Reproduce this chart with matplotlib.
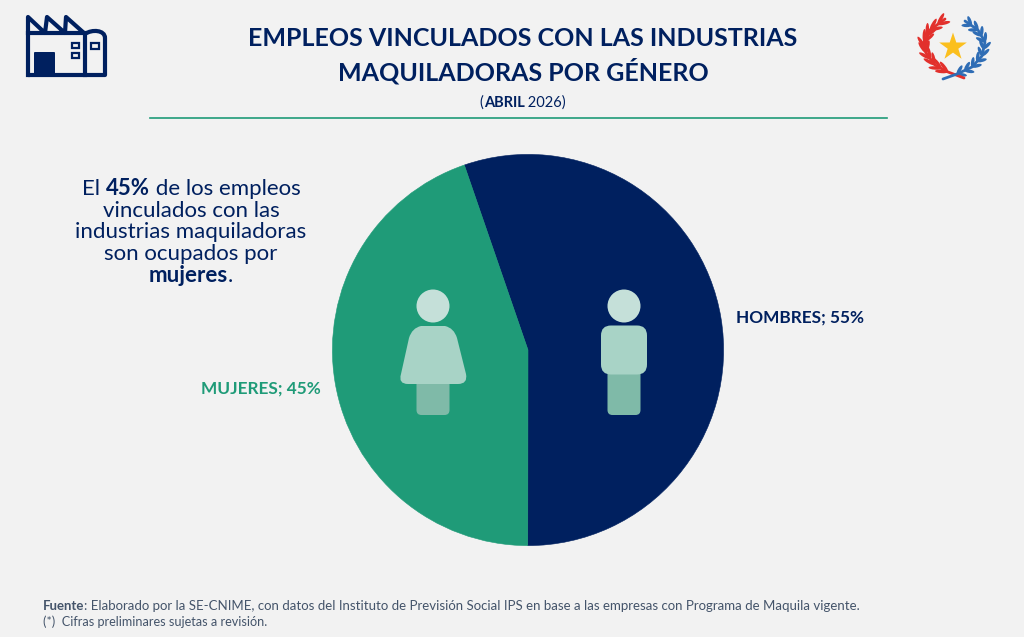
#!/usr/bin/env python3
import numpy as np
import matplotlib
matplotlib.use('Agg')
import matplotlib.pyplot as plt
from matplotlib.patches import Circle, Ellipse, FancyBboxPatch, Polygon, Rectangle, PathPatch
from matplotlib.path import Path

NAVY = '#00205f'
GREEN = '#1f9b78'
BG = '#f2f2f2'
GREY = '#44546a'

categories = ['HOMBRES', 'MUJERES']
shares = [55.3, 44.7]
slice_colors = [NAVY, GREEN]

title_lines = ['EMPLEOS VINCULADOS CON LAS INDUSTRIAS', 'MAQUILADORAS POR GÉNERO']
note_lines = [
    [('El ', False), ('45%', True), (' de los empleos', False)],
    [('vinculados con las', False)],
    [('industrias maquiladoras', False)],
    [('son ocupados por', False)],
    [('mujeres', True), ('.', False)],
]

plt.rcParams['font.family'] = ['Lato', 'DejaVu Sans']

fig = plt.figure(figsize=(10.24, 6.37), dpi=100, facecolor=BG)

# the pie sits in its own axes, everything else uses pixel coordinates
cx, cy, rad = 528, 350, 196
ax_pie = fig.add_axes([(cx - rad) / 1024, 1 - (cy + rad) / 637, 2 * rad / 1024, 2 * rad / 637])
wedges, _ = ax_pie.pie(shares, colors=slice_colors, startangle=109, counterclock=False, radius=1)
for w, c in zip(wedges, slice_colors):
    w.set_edgecolor(c)  # hides the light seam between the slices
    w.set_linewidth(0.4)
ax_pie.set_xlim(-1.002, 1.002)
ax_pie.set_ylim(-1.002, 1.002)

ax = fig.add_axes([0, 0, 1, 1])
ax.set_xlim(0, 1024)
ax.set_ylim(637, 0)
ax.axis('off')
ax.patch.set_alpha(0)


def runs(x, y, parts, size, color, center=True):
    # draw a line made of bold and normal pieces
    r = fig.canvas.get_renderer()
    items = [ax.text(0, y, s, fontsize=size, color=color, va='baseline', ha='left',
                     fontweight='bold' if b else 'normal') for s, b in parts]
    widths = []
    for t, (s, b) in zip(items, parts):
        # trailing and leading spaces are not always measured
        probe = ax.text(0, 0, 'x' + s + 'x', fontsize=size, fontweight='bold' if b else 'normal')
        px = ax.text(0, 0, 'xx', fontsize=size, fontweight='bold' if b else 'normal')
        widths.append(probe.get_window_extent(r).width - px.get_window_extent(r).width)
        probe.remove()
        px.remove()
    start = x - sum(widths) / 2 if center else x
    for t, w in zip(items, widths):
        t.set_x(start)
        start += w


# header
ax.text(523, 46, title_lines[0], fontsize=18, fontweight='bold', color=NAVY, ha='center', va='baseline')
ax.text(523, 80, title_lines[1], fontsize=18, fontweight='bold', color=NAVY, ha='center', va='baseline')
runs(523, 107, [('(', False), ('ABRIL', True), (' 2026)', False)], 10.5, NAVY)
ax.plot([150, 887], [117.5, 117.5], color=GREEN, lw=1.2)

# side note
for i, parts in enumerate(note_lines):
    runs(191, 195 + i * 21.7, parts, 16, NAVY)

# slice labels
ax.text(800, 323, f'{categories[0]}; {shares[0]:.0f}%', fontsize=12.4, fontweight='bold',
        color=NAVY, ha='center', va='baseline')
ax.text(261, 394, f'{categories[1]}; {shares[1]:.0f}%', fontsize=12.4, fontweight='bold',
        color=GREEN, ha='center', va='baseline')

# footer
runs(43, 610, [('Fuente', True), (': Elaborado por la SE-CNIME, con datos del Instituto de Previsión Social IPS '
                                  'en base a las empresas con Programa de Maquila vigente.', False)],
     9.5, GREY, center=False)
ax.text(43, 626, '(*)  Cifras preliminares sujetas a revisión.', fontsize=9.1, color=GREY, va='baseline')

# people icons
HEAD = '#c5e0d9'
BODY = '#a8d3c6'
LEG = '#7fbaa8'
for x0 in (433, 624):
    ax.add_patch(Circle((x0, 306), 16.5, fc=HEAD, ec='none'))
    ax.add_patch(FancyBboxPatch((x0 - 16.5, 365), 33, 50, boxstyle='round,pad=0,rounding_size=5',
                                fc=LEG, ec='none'))
dress_pts = [(421, 326), (445, 326), (454, 328), (457, 338), (466, 374), (468, 384), (458, 384),
             (408, 384), (398, 384), (401, 374), (409, 338), (412, 328), (421, 326), (421, 326)]
dress_codes = [Path.MOVETO, Path.LINETO, Path.CURVE3, Path.CURVE3, Path.LINETO, Path.CURVE3, Path.CURVE3,
               Path.LINETO, Path.CURVE3, Path.CURVE3, Path.LINETO, Path.CURVE3, Path.CURVE3, Path.CLOSEPOLY]
ax.add_patch(PathPatch(Path(dress_pts, dress_codes), fc=BODY, ec='none'))
ax.add_patch(FancyBboxPatch((601, 325.5), 46, 49, boxstyle='round,pad=0,rounding_size=10', fc=BODY, ec='none'))

# factory icon
lw = 3
roof = [(28, 75), (28, 17), (45, 33), (47, 17), (65, 33), (66, 17), (84, 33), (28, 33)]
ax.plot([p[0] for p in roof], [p[1] for p in roof], color=NAVY, lw=lw, solid_joinstyle='round')
ax.plot([28, 105, 105], [75, 75, 38], color=NAVY, lw=lw, solid_capstyle='round')
ax.plot([85, 85], [33, 75], color=NAVY, lw=lw)
arc = Path([(85, 34), (92, 29), (105, 30), (105, 38)], [Path.MOVETO, Path.CURVE4, Path.CURVE4, Path.CURVE4])
ax.add_patch(PathPatch(arc, fc='none', ec=NAVY, lw=lw))
ax.add_patch(FancyBboxPatch((34, 52), 21, 22, boxstyle='round,pad=0,rounding_size=1', fc=NAVY, ec='none'))
for wx, wy, ww, wh in ((72, 43, 7, 5), (72, 53, 7, 5), (91, 43, 8, 6)):
    ax.add_patch(Rectangle((wx, wy), ww, wh, fc='none', ec=NAVY, lw=1.6))

# emblem: star and laurel branches
ang = np.pi / 2 + np.arange(10) * np.pi / 5
star_r = np.where(np.arange(10) % 2 == 0, 14.5, 5.6)
ax.add_patch(Polygon(np.c_[953 + star_r * np.cos(ang), 47 - star_r * np.sin(ang)], closed=True,
                     fc='#fbbf1e', ec='none'))
red_stem = [(964, 78), (948, 72), (935, 65), (926, 53), (924, 42), (930, 30), (945, 19)]
blue_stem = [(943, 79), (957, 74), (972, 67), (982, 56), (985, 42), (978, 30), (965, 21)]
for color, stem, spread, llen in (('#e2302c', red_stem, 24, 13), ('#2f6db5', blue_stem, 34, 10)):
    sx, sy = np.array(stem).T
    ax.plot(sx, sy, color=color, lw=2, solid_capstyle='round')
    for k in range(1, len(stem) - 1):
        for u in (0.0, 0.5):
            bx = sx[k] + u * (sx[k + 1] - sx[k])
            by = sy[k] + u * (sy[k + 1] - sy[k])
            tang = np.degrees(np.arctan2(sy[k + 1] - sy[k], sx[k + 1] - sx[k]))
            for off in (-spread, spread):
                d = np.radians(tang + off)
                ax.add_patch(Ellipse((bx + 0.5 * llen * np.cos(d), by + 0.5 * llen * np.sin(d)), llen, 3.4,
                                     angle=tang + off, fc=color, ec='none'))

fig.savefig('out.png', dpi=100, facecolor=BG)
